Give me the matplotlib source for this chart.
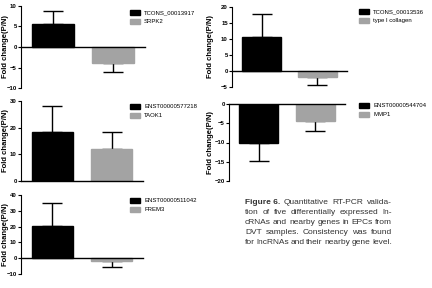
import matplotlib
matplotlib.use("Agg")
import matplotlib.pyplot as plt

plt.rcParams['font.family'] = ['Liberation Sans', 'DejaVu Sans']

# gene pairs: lncRNA (black) and nearby gene (gray)
LABELS = [["TCONS_00013917", "SRPK2"],
          ["TCONS_00013536", "type I collagen"],
          ["ENST00000577218", "TAOK1"],
          ["ENST00000544704", "MMP1"],
          ["ENST00000511042", "FREM3"]]
VALUES = [[5.5, -3.8],
          [10.5, -2.0],
          [18.3, 12.0],
          [-10.2, -4.3],
          [20.5, -2.0]]
ERRORS = [[3.2, 2.4],
          [7.3, 2.3],
          [9.9, 6.2],
          [4.6, 2.7],
          [14.2, 3.8]]
YLIMS = [(-10, 10), (-5, 20), (0, 30), (-20, 0), (-10, 40)]
YTICKS = [[-10, -5, 0, 5, 10],
          [-5, 0, 5, 10, 15, 20],
          [0, 10, 20, 30],
          [-20, -15, -10, -5, 0],
          [-10, 0, 10, 20, 30, 40]]

CAPTION = ["Quantitative RT-PCR valida-",
           "tion of five differentially expressed ln-",
           "cRNAs and nearby genes in EPCs from",
           "DVT samples. Consistency was found",
           "for lncRNAs and their nearby gene level."]

W, H = 432, 288
# axes boxes in pixels: left, right, top, bottom
BOXES = [(21, 145, 6, 88),
         (232, 347, 7, 87),
         (21, 143, 101, 181),
         (229, 345, 104, 181),
         (21, 143, 195, 274)]
LEG_POS = [(130, 10), (359, 9), (130, 104), (359, 103), (130, 198)]
YLAB_X = [6, 211, 6, 211, 6]
COLORS = ["#000000", "#a3a3a3"]

fig = plt.figure(figsize=(4.32, 2.88), dpi=100)

for i in range(5):
    l, r, t, b = BOXES[i]
    ax = fig.add_axes([l / W, 1 - b / H, (r - l) / W, (b - t) / H])
    for j in range(2):
        v = VALUES[i][j]
        e = ERRORS[i][j]
        yerr = [[0], [e]] if v > 0 else [[e], [0]]
        ax.bar(j, v, width=0.69, color=COLORS[j], edgecolor=COLORS[j],
               label=LABELS[i][j], zorder=2)
        ax.errorbar(j, v, yerr=yerr, color="black", capsize=7, elinewidth=1,
                    capthick=1, zorder=1)
    ax.set_xlim(-0.53, 1.53)
    ax.set_ylim(*YLIMS[i])
    ax.set_yticks(YTICKS[i])
    ax.set_xticks([])
    for s in ["top", "right"]:
        ax.spines[s].set_visible(False)
    ax.spines["bottom"].set_position(("data", 0))
    ax.spines["left"].set_linewidth(0.8)
    ax.spines["bottom"].set_linewidth(1.0)
    ax.tick_params(axis="y", length=2, width=0.8, pad=1, labelsize=4.3)
    for lab in ax.get_yticklabels():
        lab.set_fontweight("bold")
    lx, ly = LEG_POS[i]
    ax.legend(loc="upper left", bbox_to_anchor=(lx / W, 1 - ly / H),
              bbox_transform=fig.transFigure, frameon=False, fontsize=4.3,
              handlelength=1.75, handleheight=0.8, handletextpad=0.6,
              borderpad=0, borderaxespad=0, labelspacing=0.6)
    fig.text(YLAB_X[i] / W, 1 - ((t + b) / 2) / H, "Fold change(P/N)",
             rotation=90, ha="center", va="center", fontsize=5.5,
             fontweight="bold")

# caption, justified line by line
x0, x1 = 245 / W, 392 / W
renderer = fig.canvas.get_renderer()
for k, line in enumerate(CAPTION):
    y = 1 - (202 + 10 * k) / H
    words = line.split(" ")
    if k == 0:
        words = ["Figure 6."] + words
    texts = []
    for w in words:
        bold = w.startswith("Figure")
        texts.append(fig.text(x0, y, w, fontsize=6.0, va="center",
                              color="#333333",
                              fontweight="bold" if bold else "normal"))
    widths = [tx.get_window_extent(renderer).width / W for tx in texts]
    gap = (x1 - x0 - sum(widths)) / max(len(texts) - 1, 1)
    xx = x0
    for tx, wd in zip(texts, widths):
        tx.set_x(xx)
        xx += wd + gap

fig.savefig("out.png", dpi=100)
